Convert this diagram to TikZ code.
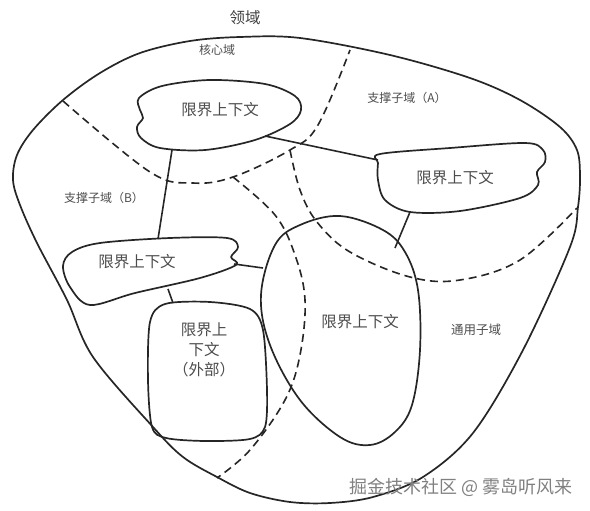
\documentclass[tikz,border=0pt]{standalone}
\usepackage{fontspec}
\setmainfont{Noto Sans CJK SC}
\usepackage{tikz}
\usetikzlibrary{calc,positioning}
\tikzset{
    boundary/.style={
    draw=black!85,line width=1.7pt,line join=round
    },
    context/.style={
    draw=black!85,line width=1.7pt,line join=round
    },
    subdomain/.style={
    draw=black!85,line width=1.6pt,dash pattern=on 8pt off 5pt
    },
    link/.style={
    draw=black!85,line width=1.6pt
    },
    ctxname/.style={
    text=black!70,font=\fontsize{15.5}{20}\selectfont,align=center,inner sep=0pt
    },
    areaname/.style={
    text=black!70,font=\fontsize{12}{14}\selectfont,inner sep=0pt
    },
}

\begin{document}
\begin{tikzpicture}[x=1pt, y=-1pt]
  \useasboundingbox (0,0) rectangle (590,511);

  % domain
  \draw[boundary] plot[smooth cycle, tension=0.55] coordinates {
    (33,130) (63,100) (100,73) (140,53) (190,41) (240,37) (300,38)
    (390,55) (470,78) (520,100) (560,127) (577,150) (580,177) (578,207)
    (570,247) (523,350) (473,433) (423,477) (373,497) (330,503) (290,502)
    (250,493) (217,477) (183,457) (153,427) (93,357) (67,300) (37,243)
    (20,205) (13,180) (17,155)};

  % bounded contexts
  \draw[context] plot[smooth cycle, tension=0.55] coordinates {
    (139,98) (162,86) (210,80) (265,84) (295,96) (301,110) (290,124)
    (255,140) (205,150) (160,148) (141,138) (137,127) (143,118) (140,110)};
  \draw[context] plot[smooth cycle, tension=0.55] coordinates {
    (380,154) (450,148) (525,143) (543,150) (545,162) (537,172) (538,185)
    (520,198) (460,211) (410,212) (385,200) (378,180) (378,163)};
  \draw[context] plot[smooth cycle, tension=0.55] coordinates {
    (72,252) (100,243) (170,238) (227,238) (238,247) (231,257) (236,265)
    (200,278) (135,293) (90,305) (70,287) (63,266)};
  \draw[context] plot[smooth cycle, tension=0.5] coordinates {
    (165,304) (210,302) (250,309) (263,330) (267,390) (265,427) (250,439)
    (205,441) (166,438) (152,427) (148,380) (150,322)};
  \draw[context] plot[smooth cycle, tension=0.6] coordinates {
    (275,245) (300,225) (340,216) (383,230) (405,252) (418,290) (420,350)
    (412,405) (395,432) (370,445) (340,437) (300,400) (270,345) (261,295)};

  % sub-domain borders
  \coordinate (aw) at (63,101);
  \coordinate (ae) at (350,50);
  \coordinate (bj) at (233,177);
  \coordinate (bs) at (217,478);
  \coordinate (cj) at (290,150);
  \coordinate (ce) at (577,208);
  \draw[subdomain] plot[smooth, tension=0.6] coordinates {
    (aw) (150,172) (193,183) (233,177) (290,150) (318,125) (350,50)};
  \draw[subdomain] plot[smooth, tension=0.6] coordinates {
    (bj) (275,215) (295,255) (305,300) (300,355) (285,400) (250,450) (bs)};
  \draw[subdomain] plot[smooth, tension=0.6] coordinates {
    (cj) (300,190) (317,222) (350,252) (410,277) (460,280) (520,260) (ce)};

  % names
  \node[text=black!75,font=\fontsize{15.5}{18}\selectfont] (dom) at (245,18) {领域};
  \node[areaname] (core) at (217,50) {核心域};
  \node[areaname] (supA) at (407,98) {支撑子域（A）};
  \node[areaname] (supB) at (104,198) {支撑子域（B）};
  \node[areaname,font=\fontsize{12.5}{14}\selectfont] (gen) at (476,330) {通用子域};

  \node[ctxname] (bcCore) at (220,110) {限界上下文};
  \node[ctxname] (bcA) at (455,178) {限界上下文};
  \node[ctxname] (bcB) at (137,262) {限界上下文};
  \node[ctxname] (bcMain) at (360,322) {限界上下文};
  \node[ctxname] (bcExt) at (204,350) {限界上\\下文\\（外部）};

  \node[text=black!50,font=\fontsize{18}{20}\selectfont] (mark) at (461,487) {掘金技术社区 @ 雾岛听风来};

  % links
  \coordinate (coreS) at (172,150);
  \coordinate (coreE) at (265,136);
  \coordinate (aW) at (378,160);
  \coordinate (aS) at (410,212);
  \coordinate (bN) at (158,239);
  \coordinate (bE) at (234,264);
  \coordinate (bS) at (168,289);
  \coordinate (extN) at (173,303);
  \coordinate (mainN) at (395,248);
  \coordinate (mainW) at (263,268);
  \path[link]
    (coreS) edge (bN)
    (coreE) edge (aW)
    (aS) edge (mainN)
    (bE) edge (mainW)
    (bS) edge (extN);
\end{tikzpicture}
\end{document}
